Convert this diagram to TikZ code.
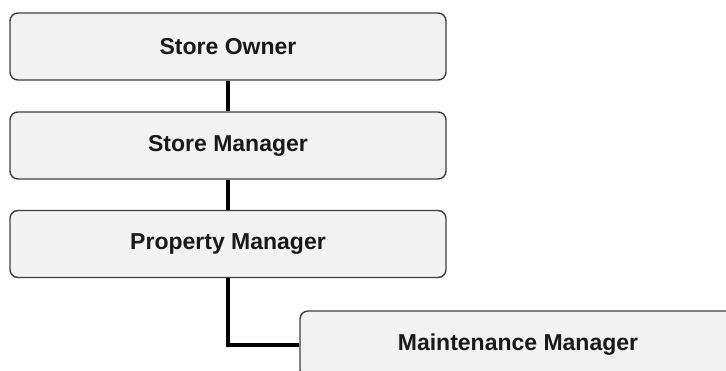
\documentclass[tikz,border=0pt]{standalone}
\usepackage{fontspec}
\setmainfont{Liberation Sans}
\begin{document}
\begin{tikzpicture}[x=1pt,y=-1pt,
  rolebox/.style={draw=black!75, line width=1.4pt, fill=black!5, rounded corners=8pt,
    minimum width=436pt, minimum height=67pt, inner sep=0pt,
    font=\fontsize{23}{27}\selectfont\bfseries, text=black!90},
  link/.style={line width=4pt, black}]
  \clip (0,0) rectangle (726,370);
  \useasboundingbox (0,0) rectangle (726,370);
  \fill[white] (0,0) rectangle (726,370);
  % chain of roles
  \node[rolebox] (owner) at (228,46.5)  {Store Owner};
  \node[rolebox] (smgr)  at (228,145.5) {Store Manager};
  \node[rolebox] (prop)  at (228,244)   {Property Manager};
  \node[rolebox] (maint) at (518,344.5) {Maintenance Manager};
  % connectors
  \draw[link] (owner.south) -- (smgr.north);
  \draw[link] (smgr.south) -- (prop.north);
  \draw[link] (prop.south) |- (maint.west);
\end{tikzpicture}
\end{document}
